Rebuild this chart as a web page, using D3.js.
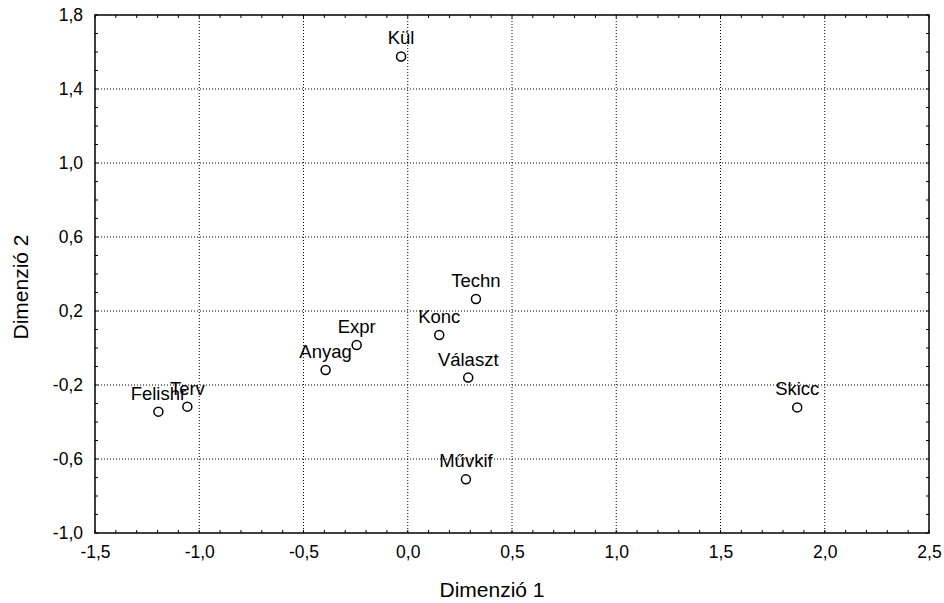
<!DOCTYPE html>
<html>
<head>
<meta charset="utf-8">
<script src="https://cdn.jsdelivr.net/npm/d3@7"></script>
<style>
  body { margin: 0; background: #fff; }
  text { font-family: Arial, "Liberation Sans", sans-serif; fill: #000; }
</style>
</head>
<body>
<svg id="chart" width="944" height="603"></svg>
<script>
// point names and coordinates
var names = ["Kül", "Techn", "Konc", "Expr", "Anyag", "Választ", "Felishr", "Terv", "Skicc", "Művkif"];
var dim1 = [-0.032, 0.327, 0.151, -0.245, -0.394, 0.290, -1.196, -1.057, 1.868, 0.279];
var dim2 = [1.576, 0.265, 0.070, 0.016, -0.119, -0.160, -0.344, -0.317, -0.321, -0.710];

var xTicks = [-1.5, -1.0, -0.5, 0.0, 0.5, 1.0, 1.5, 2.0, 2.5];
var yTicks = [-1.0, -0.6, -0.2, 0.2, 0.6, 1.0, 1.4, 1.8];

var margin = { top: 15, right: 15, bottom: 70, left: 95 },
  width = 944 - margin.left - margin.right,
  height = 603 - margin.top - margin.bottom;

var fmt = function (v) { return d3.format(".1f")(v).replace(".", ",").replace("−", "-"); };

var x = d3.scaleLinear().domain([-1.5, 2.5]).range([0, width]);
var y = d3.scaleLinear().domain([-1.0, 1.8]).range([height, 0]);

var svg = d3.select("#chart").append("g")
  .attr("transform", "translate(" + margin.left + "," + margin.top + ")");

// dotted grid
svg.append("g").selectAll("line")
  .data(xTicks.slice(1, -1))
  .enter().append("line")
  .attr("x1", d => x(d)).attr("x2", d => x(d))
  .attr("y1", 0).attr("y2", height)
  .attr("stroke", "#000").attr("stroke-width", 1)
  .attr("stroke-dasharray", "1,2");
svg.append("g").selectAll("line")
  .data(yTicks.slice(1, -1))
  .enter().append("line")
  .attr("y1", d => y(d)).attr("y2", d => y(d))
  .attr("x1", 0).attr("x2", width)
  .attr("stroke", "#000").attr("stroke-width", 1)
  .attr("stroke-dasharray", "1,2");

// minor ticks every 0.1, pointing inward on all four sides
var xMinor = d3.range(-15, 26).map(d => d / 10);
var yMinor = d3.range(-10, 19).map(d => d / 10);
var ticks = svg.append("g").attr("stroke", "#000").attr("stroke-width", 1);
xMinor.forEach(function (v) {
  ticks.append("line").attr("x1", x(v)).attr("x2", x(v)).attr("y1", height).attr("y2", height - 3);
  ticks.append("line").attr("x1", x(v)).attr("x2", x(v)).attr("y1", 0).attr("y2", 3);
});
yMinor.forEach(function (v) {
  ticks.append("line").attr("y1", y(v)).attr("y2", y(v)).attr("x1", 0).attr("x2", 3);
  ticks.append("line").attr("y1", y(v)).attr("y2", y(v)).attr("x1", width).attr("x2", width - 3);
});

// frame
svg.append("rect")
  .attr("width", width).attr("height", height)
  .attr("fill", "none").attr("stroke", "#000").attr("stroke-width", 1.5);

// tick labels
var xAxis = d3.axisBottom(x).tickValues(xTicks).tickFormat(fmt).tickSize(0).tickPadding(13);
svg.append("g").attr("transform", "translate(0," + height + ")").call(xAxis)
  .call(g => g.select(".domain").remove())
  .selectAll("text").style("font-size", "17.5px").style("font-family", "Arial, 'Liberation Sans', sans-serif");

var yAxis = d3.axisLeft(y).tickValues(yTicks).tickFormat(fmt).tickSize(0).tickPadding(12);
svg.append("g").call(yAxis)
  .call(g => g.select(".domain").remove())
  .selectAll("text").style("font-size", "17.5px").style("font-family", "Arial, 'Liberation Sans', sans-serif");

// axis titles
svg.append("text")
  .attr("x", width / 2 - 20).attr("y", height + 64)
  .attr("text-anchor", "middle").style("font-size", "21px")
  .text("Dimenzió 1");
svg.append("text")
  .attr("transform", "translate(" + (-67) + "," + (height / 2 + 13) + ") rotate(-90)")
  .attr("text-anchor", "middle").style("font-size", "21px")
  .text("Dimenzió 2");

// points
var data = names.map((n, i) => ({ name: n, x: dim1[i], y: dim2[i] }));
svg.append("g").selectAll("circle")
  .data(data)
  .enter().append("circle")
  .attr("cx", d => x(d.x)).attr("cy", d => y(d.y))
  .attr("r", 4.5)
  .attr("fill", "#fff").attr("stroke", "#000").attr("stroke-width", 1.5);

svg.append("g").selectAll("text")
  .data(data)
  .enter().append("text")
  .attr("x", d => x(d.x)).attr("y", d => y(d.y) - 12)
  .attr("text-anchor", "middle").style("font-size", "18.5px")
  .text(d => d.name);
</script>
</body>
</html>
